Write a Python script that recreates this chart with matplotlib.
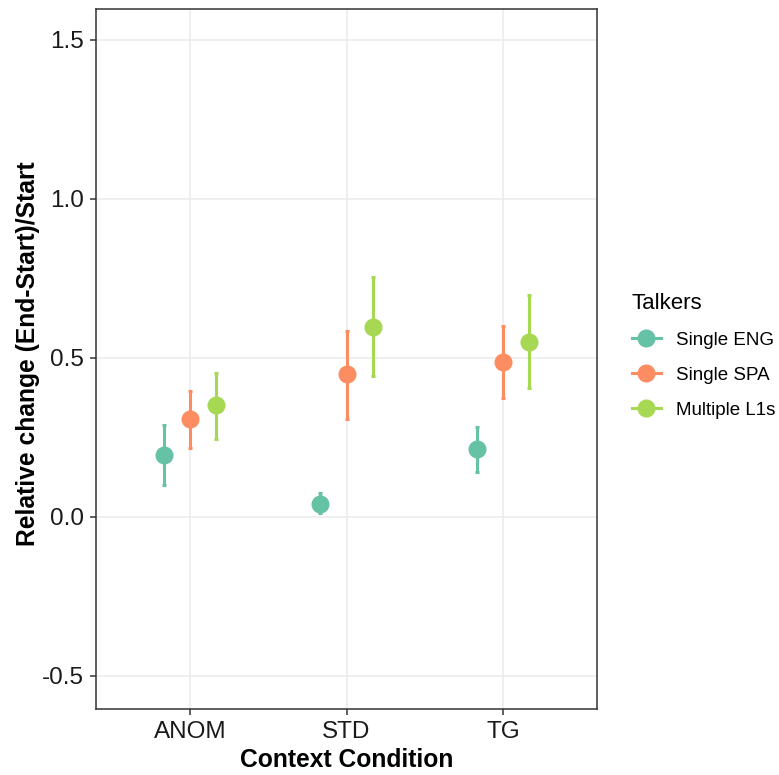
import numpy as np
import matplotlib
matplotlib.use('Agg')
import matplotlib.pyplot as plt
from matplotlib.lines import Line2D

plt.rcParams['font.family'] = ['Liberation Sans', 'DejaVu Sans']

conditions = ['ANOM', 'STD', 'TG']
talkers = ['Single ENG', 'Single SPA', 'Multiple L1s']
colors = ['#66C2A5', '#FC8D62', '#A6D854']

# mean, lower and upper of the relative change, rows = talkers, cols = conditions
means = np.array([[0.194, 0.042, 0.212],
                  [0.307, 0.449, 0.488],
                  [0.351, 0.597, 0.551]])
lower = np.array([[0.099, 0.012, 0.142],
                  [0.216, 0.307, 0.373],
                  [0.244, 0.442, 0.405]])
upper = np.array([[0.288, 0.074, 0.284],
                  [0.397, 0.586, 0.599],
                  [0.452, 0.755, 0.699]])

fig = plt.figure(figsize=(7.79, 7.75), dpi=100)
ax = fig.add_axes([96/779, 1-709/775, (597-96)/779, (709-9)/775])

x = np.arange(1, len(conditions)+1)
dodge = 0.5/3
for i in range(len(talkers)):
    xi = x + (i-1)*dodge
    ax.errorbar(xi, means[i], yerr=[means[i]-lower[i], upper[i]-means[i]],
                fmt='none', ecolor=colors[i], elinewidth=2.2, capsize=1.3,
                capthick=2.2, zorder=3)
    ax.plot(xi, means[i], 'o', color=colors[i], ms=13, mec='none', zorder=4)

ax.set_xlim(0.4, 3.6)
ax.set_ylim(-0.604, 1.597)
ax.set_xticks(x)
ax.set_xticklabels(conditions)
ax.set_yticks([-0.5, 0.0, 0.5, 1.0, 1.5])
ax.set_yticklabels(['-0.5', '0.0', '0.5', '1.0', '1.5'])
ax.grid(True, color='#EBEBEB', lw=1.1, zorder=0)
ax.set_axisbelow(True)
for s in ax.spines.values():
    s.set_color('#333333')
    s.set_linewidth(1.1)
ax.tick_params(colors='#333333', length=4, width=1.1, labelsize=17.5,
               labelcolor='#1a1a1a', pad=4.5)
ax.set_xlabel('Context Condition', fontsize=17.7, fontweight='bold', labelpad=4)
ax.set_ylabel('Relative change (End-Start)/Start', fontsize=17.7,
              fontweight='bold', labelpad=1.5)
ax.yaxis.label.set_y(0.507)

handles = [Line2D([0], [0], color=c, lw=2.2, marker='o', ms=13, mec='none')
           for c in colors]
leg = fig.legend(handles, talkers, title='Talkers', loc='upper left',
                 bbox_to_anchor=(615/779, 1-276/775), frameon=False,
                 fontsize=13.5, title_fontsize=16, handlelength=1.55,
                 labelspacing=0.95, handletextpad=0.8, alignment='left')

plt.savefig('out.png', dpi=100)
